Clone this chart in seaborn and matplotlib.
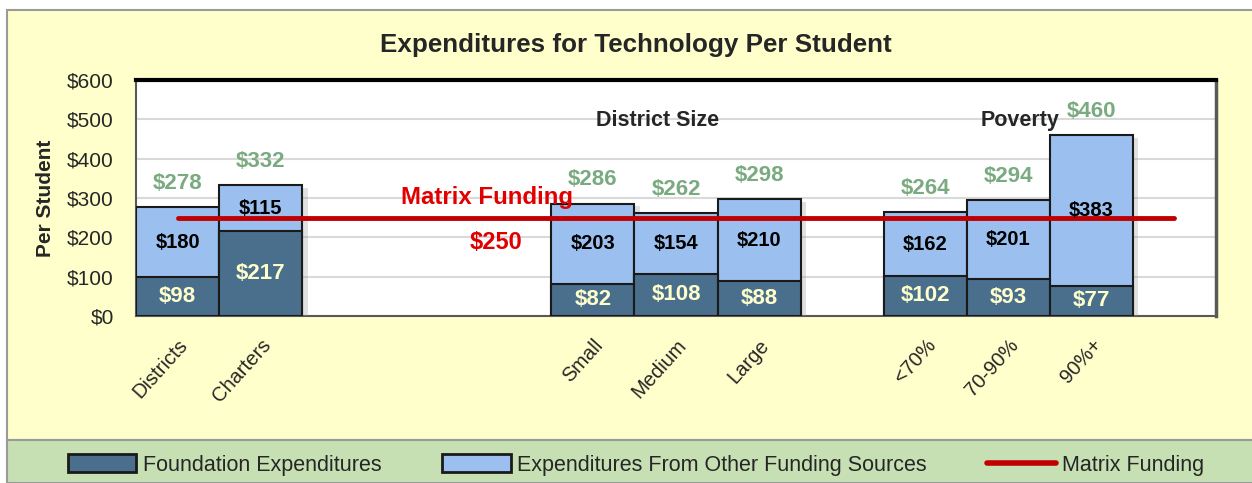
import matplotlib
matplotlib.use('Agg')
import matplotlib.pyplot as plt
import matplotlib.patches as mpatches
import matplotlib.patheffects as pe
from matplotlib.lines import Line2D
import seaborn as sns
import pandas as pd
import numpy as np

# chart data
categories = ['Districts', 'Charters', '', ' ', '  ', 'Small', 'Medium', 'Large',
              '   ', '<70%', '70-90%', '90%+', '    ']
bar_labels = ['Districts', 'Charters', 'Small', 'Medium', 'Large', '<70%', '70-90%', '90%+']
foundation = [98, 217, 82, 108, 88, 102, 93, 77]
other_sources = [180, 115, 203, 154, 210, 162, 201, 383]
totals = [278, 332, 286, 262, 298, 264, 294, 460]
matrix_funding = 250
y_ticks = [0, 100, 200, 300, 400, 500, 600]

# colours
dark_blue = '#4a6f8c'
light_blue = '#9bbfef'
edge = '#1a1a1a'
bg_yellow = '#ffffcc'
legend_green = '#c6e0b4'
total_green = '#7aaa80'
label_cream = '#ffffcc'
red = '#c00000'

sns.set_style('white')
plt.rcParams['font.family'] = ['Liberation Sans', 'DejaVu Sans']

df = pd.DataFrame({'category': bar_labels, 'foundation': foundation,
                   'other': other_sources, 'total': totals})

fig = plt.figure(figsize=(12.52, 4.83), dpi=100, facecolor='white')

# yellow frame and green legend band
fig.patches.append(mpatches.Rectangle((7 / 1252, 43 / 483), 1.0, 430 / 483, transform=fig.transFigure,
                                      facecolor=bg_yellow, edgecolor='#9a9a9a', linewidth=1.5, zorder=-2))
fig.patches.append(mpatches.Rectangle((7 / 1252, 0), 1.0, 43 / 483, transform=fig.transFigure,
                                      facecolor=legend_green, edgecolor='#9a9a9a', linewidth=1.5, zorder=-2))

ax = fig.add_axes([136 / 1252, 1 - 316 / 483, 1080 / 1252, 236 / 483])
ax.set_facecolor('white')

shadow = [pe.SimplePatchShadow(offset=(4, -2), shadow_rgbFace='#999999', alpha=0.3), pe.Normal()]

# stacked bars: total height in light blue, foundation in dark blue on top
sns.barplot(data=df, x='category', y='total', order=categories, color=light_blue, saturation=1,
            width=1.0, edgecolor=edge, linewidth=1.5, ax=ax, zorder=3)
n_light = len(ax.patches)
sns.barplot(data=df, x='category', y='foundation', order=categories, color=dark_blue, saturation=1,
            width=1.0, edgecolor=edge, linewidth=1.5, ax=ax, zorder=4)
for p in ax.patches[:n_light]:
    p.set_path_effects(shadow)

# matrix funding line
ax.plot([0, 12], [matrix_funding, matrix_funding], color=red, linewidth=3.5, zorder=6)

# value labels
pos = {c: i for i, c in enumerate(categories)}
for c, f, o, t in zip(bar_labels, foundation, other_sources, totals):
    x = pos[c]
    ax.text(x, f / 2, f'${f}', ha='center', va='center', color=label_cream,
            fontsize=16, fontweight='bold', zorder=7)
    ax.text(x, f + o / 2, f'${o}', ha='center', va='center', color='black',
            fontsize=14.5, fontweight='bold', zorder=7)
    ax.annotate(f'${t}', (x, t), xytext=(0, 17), textcoords='offset points', ha='center',
                va='center', color=total_green, fontsize=16, fontweight='bold', zorder=7)

ax.text(3.72, 302, 'Matrix Funding', ha='center', va='center', color='#e00000',
        fontsize=17.3, fontweight='bold', zorder=7)
ax.text(3.83, 188, '$250', ha='center', va='center', color='#e00000',
        fontsize=17, fontweight='bold', zorder=7)
ax.text(5.78, 498, 'District Size', ha='center', va='center', fontsize=15.5, fontweight='bold', zorder=7)
ax.text(10.14, 498, 'Poverty', ha='center', va='center', fontsize=15.5, fontweight='bold', zorder=7)

# axes styling
ax.set_xlim(-0.5, 12.5)
ax.set_ylim(0, 600)
ax.set_yticks(y_ticks)
ax.set_yticklabels([f'${v}' for v in y_ticks], fontsize=15)
ax.yaxis.grid(True, color='#d9d9d9', linewidth=1.5, zorder=0)
ax.set_axisbelow(True)
ax.set_xticks(range(len(categories)))
ax.set_xticks(np.arange(-0.5, 13, 1.0), minor=True)
ax.set_xticklabels([c.strip() for c in categories], rotation=48, ha='right',
                   rotation_mode='anchor', fontsize=14.5)
ax.tick_params(axis='x', which='both', length=6, color='#808080', direction='out', pad=8)
ax.tick_params(axis='y', length=7, color='#808080', direction='out', pad=9)
ax.set_xlabel('')
ax.set_ylabel('Per Student', fontsize=15, fontweight='bold', labelpad=9)
for s in ['left', 'bottom', 'right']:
    ax.spines[s].set_color('#595959')
    ax.spines[s].set_linewidth(1.5)
ax.spines['top'].set_color('black')
ax.spines['top'].set_linewidth(3)
ax.spines['right'].set_linewidth(2.5)

fig.text(0.508, 1 - 45 / 483, 'Expenditures for Technology Per Student', ha='center', va='center',
         fontsize=18.7, fontweight='bold')

# legend
handles = [mpatches.Patch(facecolor=dark_blue, edgecolor=edge, linewidth=2),
           mpatches.Patch(facecolor=light_blue, edgecolor=edge, linewidth=2),
           Line2D([0], [0], color=red, linewidth=4)]
fig.legend(handles, ['Foundation Expenditures', 'Expenditures From Other Funding Sources', 'Matrix Funding'],
           loc='center', bbox_to_anchor=(0.508, 18 / 483), ncol=3, frameon=False, fontsize=15.5,
           handlelength=3.2, handleheight=0.9, handletextpad=0.3, columnspacing=2.8)

plt.savefig('out.png', dpi=100, facecolor=fig.get_facecolor())
